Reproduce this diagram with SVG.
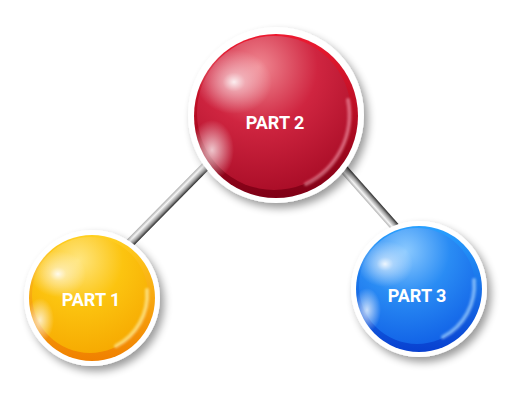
<svg xmlns="http://www.w3.org/2000/svg" width="514" height="400" viewBox="0 0 514 400">
<style>
.lbl{font-family:Roboto,"Liberation Sans",sans-serif;font-weight:bold;font-size:18px;fill:#fff;text-anchor:middle}
.ring{fill:#fff;filter:url(#sh)}
.glare{fill:url(#glare)}
.haze{fill:url(#haze)}
.rim{fill:none;stroke-width:4;stroke-linecap:round;filter:url(#soft)}
</style>
<defs>
<filter id="sh" x="-30%" y="-30%" width="160%" height="160%">
<feGaussianBlur in="SourceAlpha" stdDeviation="4"/>
<feOffset dx="4" dy="5" result="b"/>
<feComponentTransfer><feFuncA type="linear" slope="0.4"/></feComponentTransfer>
<feMerge><feMergeNode/><feMergeNode in="SourceGraphic"/></feMerge>
</filter>
<filter id="soft" x="-20%" y="-20%" width="140%" height="140%">
<feGaussianBlur stdDeviation="1.2"/>
</filter>
<radialGradient id="glare" cx="0.5" cy="0.5" r="0.5">
<stop offset="0" stop-color="#fff" stop-opacity="0.9"/>
<stop offset="0.3" stop-color="#fff" stop-opacity="0.45"/>
<stop offset="1" stop-color="#fff" stop-opacity="0"/>
</radialGradient>
<radialGradient id="haze" cx="0.5" cy="0.5" r="0.5">
<stop offset="0" stop-color="#fff" stop-opacity="0.75"/>
<stop offset="1" stop-color="#fff" stop-opacity="0"/>
</radialGradient>
<linearGradient id="redO" x1="0" y1="0" x2="0" y2="1">
<stop offset="0" stop-color="#ee1a30"/><stop offset="1" stop-color="#7e0016"/>
</linearGradient>
<radialGradient id="redI" cx="0.4" cy="0.2" r="0.85">
<stop offset="0" stop-color="#f08892"/><stop offset="0.45" stop-color="#cf2540"/><stop offset="1" stop-color="#a80c26"/>
</radialGradient>
<linearGradient id="yelO" x1="0" y1="0" x2="0" y2="1">
<stop offset="0" stop-color="#ffd020"/><stop offset="1" stop-color="#f08000"/>
</linearGradient>
<radialGradient id="yelI" cx="0.4" cy="0.2" r="0.85">
<stop offset="0" stop-color="#ffe680"/><stop offset="0.45" stop-color="#fcc410"/><stop offset="1" stop-color="#f6a800"/>
</radialGradient>
<linearGradient id="bluO" x1="0" y1="0" x2="0" y2="1">
<stop offset="0" stop-color="#28a0ff"/><stop offset="1" stop-color="#0840d0"/>
</linearGradient>
<radialGradient id="bluI" cx="0.4" cy="0.2" r="0.85">
<stop offset="0" stop-color="#8ccaff"/><stop offset="0.45" stop-color="#2a8cf4"/><stop offset="1" stop-color="#1060e6"/>
</radialGradient>
<linearGradient id="rodL" gradientUnits="userSpaceOnUse" x1="164.3" y1="201.9" x2="170.7" y2="208.2">
<stop offset="0" stop-color="#b0b0b0"/><stop offset="0.3" stop-color="#f6f6f6"/><stop offset="0.7" stop-color="#9a9a9a"/><stop offset="1" stop-color="#2a2a2a"/>
</linearGradient>
<linearGradient id="rodR" gradientUnits="userSpaceOnUse" x1="365.1" y1="200" x2="371.9" y2="194">
<stop offset="0" stop-color="#b0b0b0"/><stop offset="0.3" stop-color="#f6f6f6"/><stop offset="0.7" stop-color="#9a9a9a"/><stop offset="1" stop-color="#2a2a2a"/>
</linearGradient>
</defs>
<rect width="514" height="400" fill="#fff"/>
<g id="connectors">
<line x1="206" y1="166" x2="129" y2="244" stroke="url(#rodL)" stroke-width="9"/>
<line x1="341" y1="166" x2="396" y2="228" stroke="url(#rodR)" stroke-width="9"/>
</g>
<g id="part2">
<circle class="ring" cx="276" cy="115" r="88"/>
<circle cx="276" cy="116" r="82" fill="url(#redO)"/>
<circle cx="274" cy="113" r="77" fill="url(#redI)"/>
<path class="rim" d="M348 100 A77 77 0 0 1 306 184" stroke="#f6a0b0" stroke-opacity="0.55"/>
<ellipse class="haze" cx="212" cy="150" rx="22" ry="30"/>
<ellipse class="glare" cx="234" cy="82" rx="38" ry="32"/>
<text class="lbl" x="275" y="129">PART 2</text>
</g>
<g id="part1">
<circle class="ring" cx="92" cy="298" r="68"/>
<circle cx="92" cy="298" r="63" fill="url(#yelO)"/>
<circle cx="90" cy="295" r="58" fill="url(#yelI)"/>
<path class="rim" d="M147 290 A58 58 0 0 1 116 346" stroke="#fff2b0" stroke-opacity="0.6"/>
<ellipse class="haze" cx="40" cy="320" rx="14" ry="22"/>
<ellipse class="glare" cx="58" cy="274" rx="28" ry="23"/>
<text class="lbl" x="91" y="306">PART 1</text>
</g>
<g id="part3">
<circle class="ring" cx="419" cy="289" r="68"/>
<circle cx="419" cy="289" r="63" fill="url(#bluO)"/>
<circle cx="417" cy="286" r="58" fill="url(#bluI)"/>
<path class="rim" d="M474 280 A58 58 0 0 1 443 337" stroke="#b0dcff" stroke-opacity="0.6"/>
<ellipse class="haze" cx="367" cy="310" rx="14" ry="22"/>
<ellipse class="glare" cx="385" cy="264" rx="28" ry="23"/>
<text class="lbl" x="417" y="302">PART 3</text>
</g>
</svg>
